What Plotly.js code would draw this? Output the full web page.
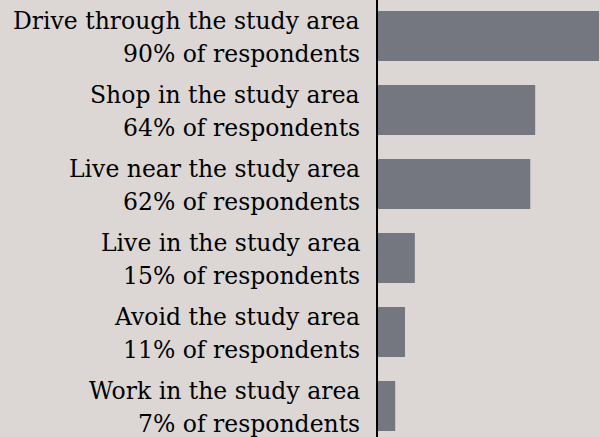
<!DOCTYPE html>
<html><head><meta charset="utf-8">
<script src="https://cdn.plot.ly/plotly-3.0.1.min.js"></script>
<style>html,body{margin:0;padding:0;background:#dcd7d4}</style>
</head><body><div id="chart" style="width:600px;height:437px"></div>
<script>
const categories = ["Drive through the study area","Shop in the study area","Live near the study area","Live in the study area","Avoid the study area","Work in the study area"];
const values = [90, 64, 62, 15, 11, 7];
const subLabels = values.map(v => v + "% of respondents");

const font = {family: "DejaVu Serif", size: 23.5, color: "#000"};
const annotations = [];
categories.forEach((c, i) => {
  annotations.push({xref:'paper', yref:'y', x:0, y:c, xanchor:'right', yanchor:'middle', xshift:-16, yshift:15, text:c, showarrow:false, font:font});
  annotations.push({xref:'paper', yref:'y', x:0, y:c, xanchor:'right', yanchor:'middle', xshift:-16, yshift:-18, text:subLabels[i], showarrow:false, font:font});
});

Plotly.newPlot('chart', [{
  type:'bar', orientation:'h', x:values, y:categories,
  marker:{color:'#747680'}, width:0.676, hoverinfo:'none'
}], {
  width:600, height:437,
  margin:{l:378, r:0, t:0, b:0},
  paper_bgcolor:'#dcd7d4', plot_bgcolor:'#dcd7d4',
  showlegend:false,
  xaxis:{range:[0,90.4], visible:false, fixedrange:true},
  yaxis:{type:'category', range:[5.419,-0.486], showticklabels:false, showgrid:false, zeroline:false,
         showline:true, linecolor:'#000', linewidth:2, ticks:''},
  annotations:annotations
}, {displayModeBar:false, staticPlot:true});
</script></body></html>
